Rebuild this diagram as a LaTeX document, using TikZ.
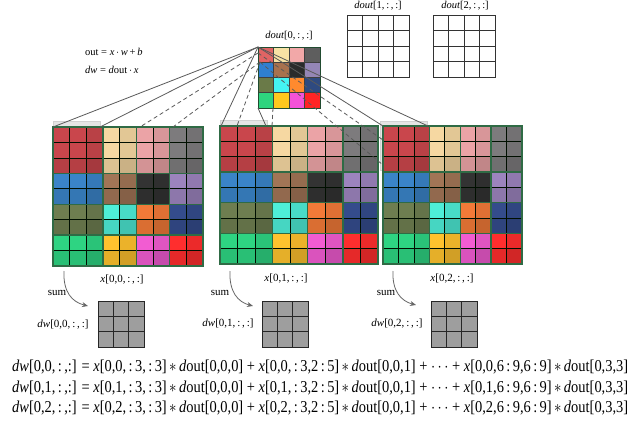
\documentclass[tikz,border=0pt]{standalone}
\usepackage{fontspec}
\setmainfont{Liberation Serif}
\usepackage{graphicx}
\usetikzlibrary{arrows.meta}
\definecolor{b00}{HTML}{C9464C}\definecolor{b01}{HTML}{F6D8A2}\definecolor{b02}{HTML}{EBA3A6}\definecolor{b03}{HTML}{7D7B7D}
\definecolor{b10}{HTML}{3A84C8}\definecolor{b11}{HTML}{A27556}\definecolor{b12}{HTML}{333333}\definecolor{b13}{HTML}{9C84BE}
\definecolor{b20}{HTML}{6E7E50}\definecolor{b21}{HTML}{4EEED8}\definecolor{b22}{HTML}{F27A38}\definecolor{b23}{HTML}{344C8C}
\definecolor{b30}{HTML}{2ED482}\definecolor{b31}{HTML}{FFC22E}\definecolor{b32}{HTML}{F25CD2}\definecolor{b33}{HTML}{FF2E2E}
\definecolor{d00}{HTML}{E06464}\definecolor{d01}{HTML}{F7E2A4}\definecolor{d02}{HTML}{F2A8A8}\definecolor{d03}{HTML}{5E5E5E}
\definecolor{d10}{HTML}{2F7FD0}\definecolor{d11}{HTML}{A8714E}\definecolor{d12}{HTML}{2B2B2B}\definecolor{d13}{HTML}{9486B6}
\definecolor{d20}{HTML}{6A7A48}\definecolor{d21}{HTML}{44F4F4}\definecolor{d22}{HTML}{FF8A2E}\definecolor{d23}{HTML}{2E4A80}
\definecolor{d30}{HTML}{2ED47E}\definecolor{d31}{HTML}{FFC81E}\definecolor{d32}{HTML}{F452D8}\definecolor{d33}{HTML}{FF2424}
\definecolor{gridgreen}{HTML}{2F6B45}
\definecolor{conn}{HTML}{5A5A5A}
\newcommand\BigGrid[4]{%
  \pgfmathsetmacro\cw{#3/9}\pgfmathsetmacro\ch{#4/9}%
  \foreach \i in {0,...,8}{\foreach \j in {0,...,8}{%
    \pgfmathtruncatemacro\bc{max(0,floor((\i-1)/2))}%
    \pgfmathtruncatemacro\br{max(0,floor((\j-1)/2))}%
    \pgfmathtruncatemacro\sh{100-8*and(\i>0,mod(\i,2)==0)-10*and(\j>0,mod(\j,2)==0)}%
    \fill[b\br\bc!\sh!black] ({#1+\i*\cw},{#2+\j*\ch}) rectangle ++(\cw,\ch);
  }}%
  \foreach \k in {1,...,8}{%
    \draw[cellline] ({#1+\k*\cw},#2) -- ++(0,#4);
    \draw[cellline] (#1,{#2+\k*\ch}) -- ++(#3,0);
  }%
  \foreach \k in {3,5,7}{%
    \draw[blockline] ({#1+\k*\cw},#2) -- ++(0,#4);
    \draw[blockline] (#1,{#2+\k*\ch}) -- ++(#3,0);
  }%
  \draw[blockline] (#1,#2) rectangle ++(#3,#4);
}
\newcommand\DwGrid[2]{%
  \fill[black!38] (#1,#2) rectangle ++(46,46);
  \foreach \k in {1,2}{%
    \draw[line width=0.9pt,black!85] ({#1+\k*46/3},#2) -- ++(0,46);
    \draw[line width=0.9pt,black!85] (#1,{#2+\k*46/3}) -- ++(46,0);
  }%
  \draw[line width=1pt,black!85] (#1,#2) rectangle ++(46,46);
}
\newcommand\EmptyGrid[2]{%
  \foreach \k in {1,2,3}{%
    \draw[line width=0.8pt,black!80] ({#1+\k*62/4},#2) -- ++(0,62);
    \draw[line width=0.8pt,black!80] (#1,{#2+\k*62/4}) -- ++(62,0);
  }%
  \draw[line width=0.8pt,black!80] (#1,#2) rectangle ++(62,62);
}
\newcommand\EqLine[1]{\scalebox{1}[1.15]{\resizebox{616pt}{!}{\fontsize{14}{16}\selectfont
  \textit{dw}[0,#1,\,:\,,:] = \textit{x}[0,#1,\,:\,3,\,:\,3]\,$*$\,\textit{d}out[0,0,0] + \textit{x}[0,#1,\,:\,3,2\,:\,5]\,$*$\,\textit{d}out[0,0,1] + $\cdots$ + \textit{x}[0,#1,6\,:\,9,6\,:\,9]\,$*$\,\textit{d}out[0,3,3]}}}
\begin{document}
\begin{tikzpicture}[x=1pt,y=-1pt,
  cellline/.style={line width=0.6pt,black!80!green!30!black},
  blockline/.style={line width=1.4pt,gridgreen},
  shadowbox/.style={fill=black!10,draw=black!18,line width=0.6pt},
  connline/.style={conn,line width=0.8pt},
  dashconn/.style={conn,line width=0.8pt,dash pattern=on 4pt off 3pt},
  sumarrow/.style={black!60,line width=0.8pt,-{Stealth[length=6pt,width=5pt]}},
  lbl/.style={inner sep=0pt,font=\fontsize{10.5}{12}\selectfont},
  eqn/.style={inner sep=0pt,anchor=west}]
\fill[white] (0,0) rectangle (634,429);
\useasboundingbox (0,0) rectangle (634,429);

% formulas
\node[lbl,anchor=west] (f1) at (85,52) {out = \textit{x}\,$\cdot$\,\textit{w}\,+\,\textit{b}};
\node[lbl,anchor=west] (f2) at (85,70) {\textit{dw} = \textit{d}out\,$\cdot$\,\textit{x}};

% dout grids
\node[lbl] (lab0) at (289,36) {\textit{dout}[0,\,:\,,\,:]};
\node[lbl] (lab1) at (378,6) {\textit{dout}[1,\,:\,,\,:]};
\node[lbl] (lab2) at (465,6) {\textit{dout}[2,\,:\,,\,:]};
\foreach \r in {0,...,3}{\foreach \c in {0,...,3}{
  \fill[d\r\c] ({258+\c*15.5},{47+\r*15.25}) rectangle ++(15.5,15.25);
}}
\foreach \k in {1,2,3}{
  \draw[line width=0.8pt,black!75] ({258+\k*15.5},47) -- ++(0,61);
  \draw[line width=0.8pt,black!75] (258,{47+\k*15.25}) -- ++(62,0);
}
\draw[line width=1pt,gridgreen!70!black] (258,47) rectangle (320,108);
\EmptyGrid{347}{15}
\EmptyGrid{433}{15}

% window shadows
\draw[shadowbox] (53,121) rectangle (100,173);
\draw[shadowbox] (220,120) rectangle (267,172);
\draw[shadowbox] (380,121) rectangle (427,170);

% big grids
\BigGrid{53}{127}{150}{139}
\BigGrid{220}{126}{158}{138}
\BigGrid{383}{126}{139}{138}

% connector endpoints
\coordinate (dTL) at (258,47);
\coordinate (dTLa) at (258,53);
\coordinate (dTLb) at (260,62);
\coordinate (dBL) at (258,108);
\coordinate (dBLb) at (273,108);
\coordinate (L1) at (53,127);
\coordinate (L2) at (100,127);
\coordinate (L3) at (140,127);
\coordinate (L4) at (173,127);
\coordinate (M1) at (221,126);
\coordinate (M2) at (237,126);
\coordinate (M3) at (266,126);
\coordinate (M4) at (272,126);
\coordinate (R1) at (383,126);
\coordinate (R2) at (428,126);
\coordinate (R3) at (383,140);
\coordinate (R4) at (383,165);

\draw[connline] (dTL) -- (L1);
\draw[connline] (dTL) -- (L2);
\draw[dashconn] (dTLa) -- (L3);
\draw[dashconn] (dTLb) -- (L4);
\draw[connline] (dTL) -- (M1);
\draw[dashconn] (dTLb) -- (M2);
\draw[connline] (dBL) -- (M3);
\draw[dashconn] (dBLb) -- (M4);
\draw[connline] (dTL) -- (R1);
\draw[connline] (dTL) -- (R2);
\draw[dashconn] (dTLa) -- (R3);
\draw[dashconn] (dTLb) -- (R4);

% x labels
\node[lbl,font=\fontsize{11}{13}\selectfont] (x0) at (122,280) {\textit{x}[0,0,\,:\,,\,:]};
\node[lbl,font=\fontsize{11}{13}\selectfont] (x1) at (286,279) {\textit{x}[0,1,\,:\,,\,:]};
\node[lbl,font=\fontsize{11}{13}\selectfont] (x2) at (452,279) {\textit{x}[0,2,\,:\,,\,:]};

% sum arrows
\node[lbl,font=\fontsize{11}{13}\selectfont] (s0) at (57,293) {sum};
\node[lbl,font=\fontsize{11}{13}\selectfont] (s1) at (220,293) {sum};
\node[lbl,font=\fontsize{11}{13}\selectfont] (s2) at (386,293) {sum};
\coordinate (a0) at (64,271); \coordinate (e0) at (88,306);
\coordinate (a1) at (230,271); \coordinate (e1) at (253,306);
\coordinate (a2) at (393,271); \coordinate (e2) at (416,305);
\draw[sumarrow] (a0) .. controls (63,292) and (72,302) .. (e0);
\draw[sumarrow] (a1) .. controls (229,292) and (238,302) .. (e1);
\draw[sumarrow] (a2) .. controls (392,291) and (401,301) .. (e2);

% dw grids
\DwGrid{98}{301}
\DwGrid{262}{301}
\DwGrid{431}{301}
\node[lbl,font=\fontsize{11}{13}\selectfont] (w0) at (63,325) {\textit{dw}[0,0,\,:\,,\,:]};
\node[lbl,font=\fontsize{11}{13}\selectfont] (w1) at (228,324) {\textit{dw}[0,1,\,:\,,\,:]};
\node[lbl,font=\fontsize{11}{13}\selectfont] (w2) at (397,324) {\textit{dw}[0,2,\,:\,,\,:]};

% equations
\node[eqn] (eq0) at (12,367) {\EqLine{0}};
\node[eqn] (eq1) at (12,388) {\EqLine{1}};
\node[eqn] (eq2) at (12,408) {\EqLine{2}};
\end{tikzpicture}
\end{document}
